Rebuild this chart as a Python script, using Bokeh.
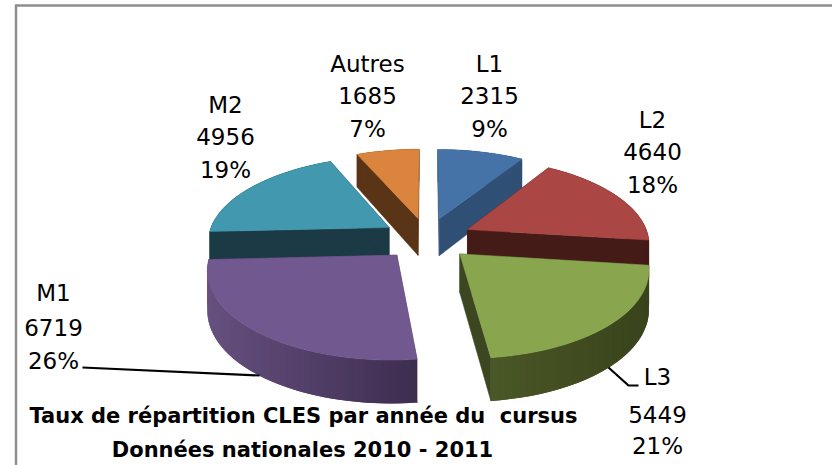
import math
from bokeh.plotting import figure
from bokeh.models import ColumnDataSource, Range1d
from bokeh.core.properties import value
from bokeh.embed import file_html
from bokeh.resources import INLINE

# ---- data
categories = ["L1", "L2", "L3", "M1", "M2", "Autres"]
counts = [2315, 4640, 5449, 6719, 4956, 1685]
percents = ["9%", "18%", "21%", "26%", "19%", "7%"]

# ---- styles
top_colors = ["#4573a7", "#aa4644", "#89a54e", "#71588f", "#4198af", "#db843d"]
side_colors = ["#2f4f74", "#451b18", "#3c4721", "#4a3a60", "#1b3a45", "#5a3417"]
wall_left = ["#2f4f74", "#451b18", "#4a5726", "#66507f", "#1b3a45", "#5a3417"]
wall_right = ["#2f4f74", "#451b18", "#39431c", "#3d2d4f", "#1b3a45", "#5a3417"]
label_pos = {
    "L1": (489, [63, 95, 128]),
    "L2": (652, [119, 151, 184]),
    "L3": (657, [376, 414, 445]),
    "M1": (53, [292, 327, 360]),
    "M2": (225, [104, 136, 169]),
    "Autres": (367, [63, 95, 128]),
}
paint_order = ["L1", "Autres", "M2", "L2", "L3", "M1"]
title_lines = ["Taux de répartition CLES par année du \u00a0cursus", "Données nationales 2010 - 2011"]

CX, CY, A, B, K, EXPLODE, DEPTH = 426.5, 238, 181.6, 84.6, 0.144, 0.25, 38


def project(x, y):
    den = 1 - K * y
    return CX + A * x / den, CY + B * y / den


def drop(y):
    return DEPTH * (1 + 0.12 * y)


def hex_mix(c1, c2, t):
    a = [int(c1[i:i + 2], 16) for i in (1, 3, 5)]
    b = [int(c2[i:i + 2], 16) for i in (1, 3, 5)]
    return "#%02x%02x%02x" % tuple(round(u + (v - u) * t) for u, v in zip(a, b))


total = sum(counts)
starts = {}
acc = 0
for c, v in zip(categories, counts):
    starts[c] = (acc / total * 2 * math.pi, (acc + v) / total * 2 * math.pi)
    acc += v

xs, ys, fills, widths = [], [], [], []


def add(px, py, col, w=0.5):
    xs.append(px)
    ys.append(py)
    fills.append(col)
    widths.append(w)


for name in paint_order:
    i = categories.index(name)
    t0, t1 = starts[name]
    mid = (t0 + t1) / 2
    ax, ay = EXPLODE * math.sin(mid), -EXPLODE * math.cos(mid)
    n = max(8, int((t1 - t0) * 30))
    world = [(ax + math.sin(t0 + (t1 - t0) * j / n), ay - math.cos(t0 + (t1 - t0) * j / n)) for j in range(n + 1)]
    apex = project(ax, ay)
    apex_d = drop(ay)
    rim = [project(*w) + (drop(w[1]),) for w in world]
    # cut faces
    for r in (rim[0], rim[-1]):
        add([apex[0], r[0], r[0], apex[0]], [apex[1], r[1], r[1] + r[2], apex[1] + apex_d], side_colors[i])
    # outer wall, shaded left to right; each strip overlaps the next to hide seams
    minx = min(r[0] for r in rim)
    maxx = max(r[0] for r in rim)
    for j in range(n):
        a, b = rim[j], rim[min(j + 2, n)]
        t = ((rim[j][0] + rim[j + 1][0]) / 2 - minx) / (maxx - minx)
        add([a[0], b[0], b[0], a[0]], [a[1], b[1], b[1] + b[2], a[1] + a[2]],
            hex_mix(wall_left[i], wall_right[i], t), 0)
    # top face
    add([apex[0]] + [r[0] for r in rim], [apex[1]] + [r[1] for r in rim], top_colors[i])

p = figure(width=832, height=465, x_range=Range1d(0, 832), y_range=Range1d(465, 0),
           output_backend="svg", toolbar_location=None, min_border=0,
           background_fill_color="white", border_fill_color="white")
p.axis.visible = False
p.grid.visible = False
p.outline_line_color = None

# chart frame (top and left edges only)
p.segment([15.5, 15], [4, 5], [15.5, 832], [465, 5], line_color="#8e8e8e", line_width=2.5)

src = ColumnDataSource(dict(xs=xs, ys=ys, fill=fills, w=widths))
p.patches("xs", "ys", source=src, fill_color="fill", line_color="fill", line_width="w")

# leader lines
p.line([82, 259], [367, 375], line_color="black", line_width=2.2)
p.line([608, 628, 638], [367, 385, 385], line_color="black", line_width=2.2)

# labels
FONT = "DejaVu Sans"
for c, v, pc in zip(categories, counts, percents):
    x, yy = label_pos[c]
    p.text([x] * 3, yy, text=[c, str(v), pc], text_font=value(FONT), text_font_size="23px",
           text_align="center", text_baseline="middle", text_color="black")

p.text([303, 302], [415, 449], text=title_lines, text_font=value(FONT), text_font_size="21px",
       text_font_style="bold", text_align="center", text_baseline="middle", text_color="black")

open("out.html", "w").write(file_html(p, INLINE))
